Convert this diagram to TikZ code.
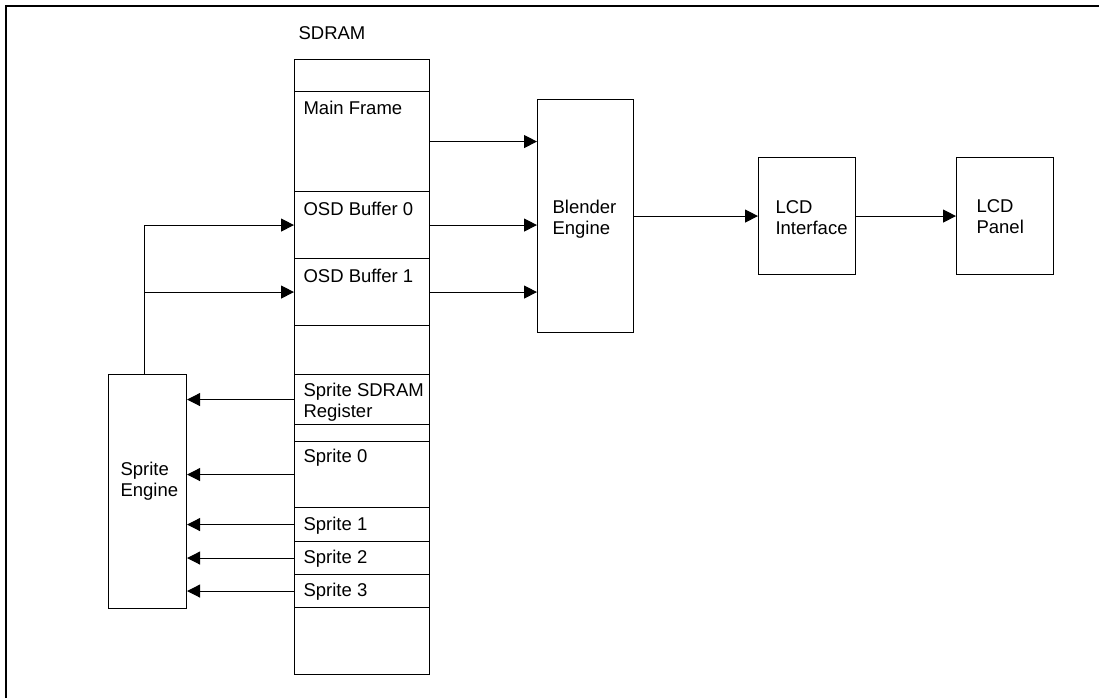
\documentclass[tikz,border=0pt]{standalone}
\usepackage{fontspec}
\setmainfont{Liberation Sans}
\usetikzlibrary{arrows.meta,positioning}

\begin{document}
\begin{tikzpicture}[x=1pt,y=-1pt,line width=1.1pt,
      font=\fontsize{18.5}{21}\selectfont,
      sect/.style={draw,anchor=north west,minimum width=135pt,minimum height=#1,inner sep=0pt},
      blk/.style={draw,anchor=north west,minimum width=97pt,minimum height=#1,inner sep=0pt},
      txt/.style={anchor=north west,inner sep=0pt,align=left},
      arr/.style={-{Triangle[length=13pt,width=13pt]}}]
      \useasboundingbox (0,0) rectangle (1099,698);
      \draw[line width=1.6pt] (6,698) -- (6,6) -- (1099,6);
      % SDRAM column
      \node[txt] (sdram) at (298,26) {SDRAM};
      \node[sect=32pt] (s0) at (294,59) {};
      \node[sect=100pt] (mf) at (294,91) {};
      \node[sect=67pt] (osd0) at (294,191) {};
      \node[sect=67pt] (osd1) at (294,258) {};
      \node[sect=49pt] (s1) at (294,325) {};
      \node[sect=50pt] (ssr) at (294,374) {};
      \node[sect=17pt] (s2) at (294,424) {};
      \node[sect=66pt] (sp0) at (294,441) {};
      \node[sect=34pt] (sp1) at (294,507) {};
      \node[sect=33pt] (sp2) at (294,541) {};
      \node[sect=33pt] (sp3) at (294,574) {};
      \node[sect=67pt] (s3) at (294,607) {};
      \node[txt] (mflbl) at (303,100.5) {Main Frame};
      \node[txt] (osd0lbl) at (303,201.5) {OSD Buffer 0};
      \node[txt] (osd1lbl) at (303,268.5) {OSD Buffer 1};
      \node[txt] (ssrlbl) at (303,383) {Sprite SDRAM\\Register};
      \node[txt] (sp0lbl) at (303,449) {Sprite 0};
      \node[txt] (sp1lbl) at (303,516.5) {Sprite 1};
      \node[txt] (sp2lbl) at (303,549.5) {Sprite 2};
      \node[txt] (sp3lbl) at (303,583) {Sprite 3};
      % blocks
      \node[blk=234pt,minimum width=78pt] (se) at (108,374) {};
      \node[txt] (selbl) at (120,462) {Sprite\\Engine};
      \node[blk=233pt,minimum width=96pt] (be) at (537,99) {};
      \node[txt] (belbl) at (552,200) {Blender\\Engine};
      \node[blk=117pt] (lcdi) at (758,157) {};
      \node[txt] (lcdilbl) at (775,200.5) {LCD\\Interface};
      \node[blk=117pt] (lcdp) at (956,157) {};
      \node[txt] (lcdplbl) at (976,199.5) {LCD\\Panel};
      % connectors
      \draw[arr] (mf.east) -- (mf.east -| be.west);
      \draw[arr] (osd0.east) -- (osd0.east -| be.west);
      \draw[arr] (osd1.east) -- (osd1.east -| be.west);
      \draw[arr] (be.east) -- (lcdi.west);
      \draw[arr] (lcdi.east) -- (lcdp.west);
      \coordinate (tap) at ([xshift=-3pt]se.north);
      \draw[arr] (tap) |- (osd0.west);
      \draw[arr] (tap |- osd1.west) -- (osd1.west);
      \foreach \s in {ssr,sp0,sp1,sp2,sp3}
        \draw[arr] (\s.west) -- (\s.west -| se.east);
\end{tikzpicture}
\end{document}
